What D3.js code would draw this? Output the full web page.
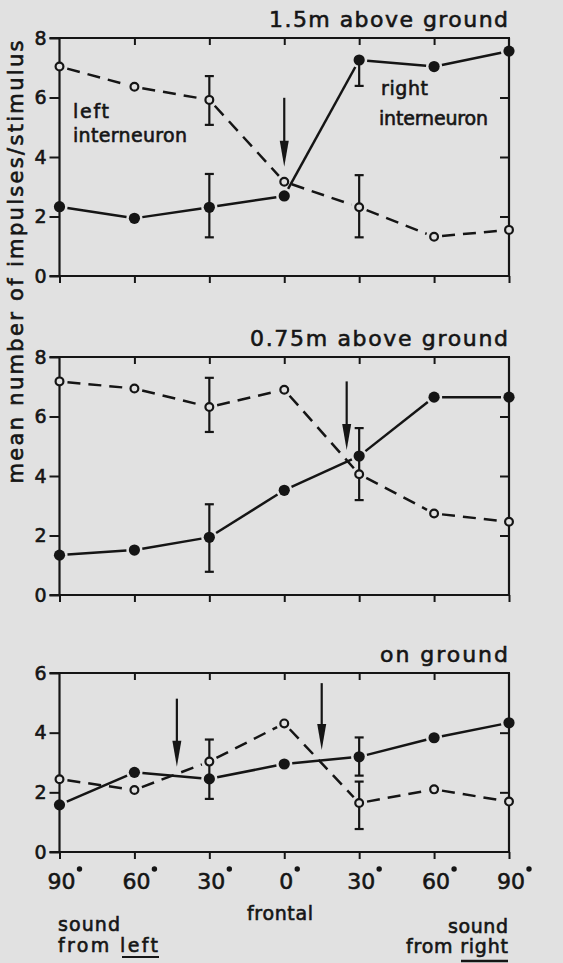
<!DOCTYPE html>
<html>
<head>
<meta charset="utf-8">
<script src="https://d3js.org/d3.v7.min.js"></script>
<style>
  body { margin: 0; background: #e1e1e1; }
  svg text { font-family: "DejaVu Sans", sans-serif; fill: #151515; stroke: #151515; stroke-width: 0.6px; }
</style>
</head>
<body>
<div id="chart"></div>
<script>
///////////////////////////////////////////////
// Data ///////////////////////////////////////
///////////////////////////////////////////////

// sound direction, left negative, right positive
var angles = [-90, -60, -30, 0, 30, 60, 90];
var angleLabels = ["90", "60", "30", "0", "30", "60", "90"];

// 1.5 m above ground
var right150 = [2.33, 1.94, 2.31, 2.69, 7.26, 7.04, 7.56];
var left150  = [7.04, 6.36, 5.92, 3.17, 2.31, 1.32, 1.55];
var errors150 = [[-30, 1.30, 3.43], [-30, 5.08, 6.72], [30, 6.39, 7.26], [30, 1.30, 3.39]];
var arrows150 = [[0, 5.99, 3.67]];

// 0.75 m above ground
var right075 = [1.34, 1.51, 1.94, 3.52, 4.67, 6.65, 6.65];
var left075  = [7.18, 6.94, 6.32, 6.90, 4.06, 2.74, 2.46];
var errors075 = [[-30, 0.78, 3.05], [-30, 5.48, 7.30], [30, 3.19, 5.61]];
var arrows075 = [[25, 7.18, 4.87]];

// on ground
var right000 = [1.58, 2.67, 2.45, 2.95, 3.19, 3.83, 4.33];
var left000  = [2.44, 2.08, 3.03, 4.31, 1.64, 2.10, 1.69];
var errors000 = [[-30, 1.78, 3.77], [30, 2.56, 3.84], [30, 0.77, 2.36]];
var arrows000 = [[-43, 5.14, 2.86], [15, 5.66, 3.42]];

var yTicks8 = [0, 2, 4, 6, 8];
var yTicks6 = [0, 2, 4, 6];

///////////////////////////////////////////////
// Graph parameters ///////////////////////////
///////////////////////////////////////////////

var W = 563, H = 963;
var ink = "#151515", bg = "#e1e1e1";

var panels = [
  { title: "1.5m above ground", titleLen: 239, titleY: 27, top: 38, bottom: 276, yMax: 8, ticks: yTicks8,
    right: right150, left: left150, errors: errors150, arrows: arrows150 },
  { title: "0.75m above ground", titleLen: 258, titleY: 346, top: 357, bottom: 595, yMax: 8, ticks: yTicks8,
    right: right075, left: left075, errors: errors075, arrows: arrows075 },
  { title: "on ground", titleLen: 128, titleY: 662, top: 673, bottom: 852, yMax: 6, ticks: yTicks6,
    right: right000, left: left000, errors: errors000, arrows: arrows000 }
];

var svg = d3.select("#chart").append("svg")
    .attr("width", W)
    .attr("height", H)
    .style("display", "block");

svg.append("rect").attr("width", W).attr("height", H).attr("fill", bg);

var x = d3.scaleLinear()
    .domain([-90, 90])
    .range([59.5, 509]);

///////////////////////////////////////////////
// Panels /////////////////////////////////////
///////////////////////////////////////////////

function styleTicks(a) {
  a.select(".domain").remove();
  a.selectAll(".tick line").attr("stroke", ink).attr("stroke-width", 2);
}

panels.forEach(function(p, pi) {
  var y = d3.scaleLinear().domain([0, p.yMax]).range([p.bottom, p.top]);
  var g = svg.append("g");

  // left axis with outward ticks
  g.append("g")
    .attr("transform", "translate(" + x(-90) + ",0)")
    .call(d3.axisLeft(y).tickValues(p.ticks).tickSize(10).tickPadding(3).tickFormat(d3.format("d")))
    .call(function(a) {
      styleTicks(a);
      a.selectAll(".tick text")
        .style("font-size", "19px")
        .style("font-family", "DejaVu Sans, sans-serif")
        .attr("fill", ink);
    });

  // right axis, inward ticks
  g.append("g")
    .attr("transform", "translate(" + x(90) + ",0)")
    .call(d3.axisLeft(y).tickValues(p.ticks.slice(1, -1)).tickSize(9).tickFormat(""))
    .call(styleTicks);

  // top ticks, inward
  g.append("g")
    .attr("transform", "translate(0," + p.top + ")")
    .call(d3.axisBottom(x).tickValues(angles.slice(1, -1)).tickSize(7).tickFormat(""))
    .call(styleTicks);

  // bottom ticks, outward
  g.append("g")
    .attr("transform", "translate(0," + p.bottom + ")")
    .call(d3.axisBottom(x).tickValues(angles).tickSize(7).tickFormat(""))
    .call(styleTicks);

  // frame
  var frame = [
    [x(-90) - 10, p.top, x(90) + 1, p.top],
    [x(-90) - 10, p.bottom, x(90) + 1, p.bottom],
    [x(-90), p.top, x(-90), p.bottom],
    [x(90), p.top, x(90), p.bottom]
  ];
  g.selectAll(".frame").data(frame).enter().append("line")
    .attr("x1", function(d) { return d[0]; })
    .attr("y1", function(d) { return d[1]; })
    .attr("x2", function(d) { return d[2]; })
    .attr("y2", function(d) { return d[3]; })
    .attr("stroke", ink)
    .attr("stroke-width", 2.2);

  // title
  g.append("text")
    .attr("x", 508)
    .attr("y", p.titleY)
    .attr("text-anchor", "end")
    .attr("textLength", p.titleLen)
    .attr("lengthAdjust", "spacing")
    .style("font-size", "22px")
    .text(p.title);

  // error bars
  var eb = g.selectAll(".err").data(p.errors).enter().append("g");
  eb.append("line")
    .attr("x1", function(d) { return x(d[0]); })
    .attr("x2", function(d) { return x(d[0]); })
    .attr("y1", function(d) { return y(d[1]); })
    .attr("y2", function(d) { return y(d[2]); })
    .attr("stroke", ink).attr("stroke-width", 2.2);
  [1, 2].forEach(function(k) {
    eb.append("line")
      .attr("x1", function(d) { return x(d[0]) - 4.5; })
      .attr("x2", function(d) { return x(d[0]) + 4.5; })
      .attr("y1", function(d) { return y(d[k]); })
      .attr("y2", function(d) { return y(d[k]); })
      .attr("stroke", ink).attr("stroke-width", 2.2);
  });

  // connecting lines, stopped short of the markers
  function segments(vals) {
    var pts = vals.map(function(v, i) { return [x(angles[i]), y(v)]; });
    var segs = [];
    for (var i = 0; i < pts.length - 1; i++) {
      var a = pts[i], b = pts[i + 1];
      var dx = b[0] - a[0], dy = b[1] - a[1], len = Math.sqrt(dx * dx + dy * dy);
      var t = 8 / len;
      segs.push([a[0] + dx * t, a[1] + dy * t, b[0] - dx * t, b[1] - dy * t]);
    }
    return segs;
  }

  g.selectAll(".lineR").data(segments(p.right)).enter().append("line")
    .attr("x1", function(d) { return d[0]; })
    .attr("y1", function(d) { return d[1]; })
    .attr("x2", function(d) { return d[2]; })
    .attr("y2", function(d) { return d[3]; })
    .attr("stroke", ink).attr("stroke-width", 2.5);

  g.selectAll(".lineL").data(segments(p.left)).enter().append("line")
    .attr("x1", function(d) { return d[0]; })
    .attr("y1", function(d) { return d[1]; })
    .attr("x2", function(d) { return d[2]; })
    .attr("y2", function(d) { return d[3]; })
    .attr("stroke", ink).attr("stroke-width", 2.5)
    .attr("stroke-dasharray", "13,8");

  // arrows
  p.arrows.forEach(function(a) {
    var ax = x(a[0]), y0 = y(a[1]), y1 = y(a[2]);
    g.append("line")
      .attr("x1", ax).attr("x2", ax)
      .attr("y1", y0).attr("y2", y1 - 20)
      .attr("stroke", ink).attr("stroke-width", 2.2);
    g.append("path")
      .attr("d", "M" + (ax - 4.5) + "," + (y1 - 26) + "L" + (ax + 4.5) + "," + (y1 - 26) + "L" + ax + "," + y1 + "Z")
      .attr("fill", ink);
  });

  // markers
  g.selectAll(".dotR").data(p.right).enter().append("circle")
    .attr("cx", function(d, i) { return x(angles[i]); })
    .attr("cy", function(d) { return y(d); })
    .attr("r", 5.6)
    .attr("fill", ink);

  g.selectAll(".dotL").data(p.left).enter().append("circle")
    .attr("cx", function(d, i) { return x(angles[i]); })
    .attr("cy", function(d) { return y(d); })
    .attr("r", 3.9)
    .attr("fill", bg)
    .attr("stroke", ink)
    .attr("stroke-width", 2.2);

  // angle labels under the last panel
  if (pi === panels.length - 1) {
    var lab = g.selectAll(".angle").data(angles).enter().append("g")
      .attr("transform", function(d) { return "translate(" + (x(d) + 2) + "," + (p.bottom + 37) + ")"; });
    lab.append("text")
      .attr("text-anchor", "middle")
      .style("font-size", "22px")
      .text(function(d, i) { return angleLabels[i]; });
    lab.append("circle")
      .attr("cx", function() {
        return this.parentNode.querySelector("text").getComputedTextLength() / 2 + 4;
      })
      .attr("cy", -20)
      .attr("r", 2.7)
      .attr("fill", ink);
  }
});

///////////////////////////////////////////////
// Labels /////////////////////////////////////
///////////////////////////////////////////////

svg.append("text")
  .attr("transform", "translate(23,262) rotate(-90)")
  .attr("text-anchor", "middle")
  .attr("textLength", 443)
  .attr("lengthAdjust", "spacing")
  .style("font-size", "21px")
  .text("mean number of impulses/stimulus");

var notes = [
  { t: "left", x: 73, y: 118, len: 36, anchor: "start" },
  { t: "interneuron", x: 73, y: 142, len: 114, anchor: "start" },
  { t: "right", x: 381, y: 95, len: 47, anchor: "start" },
  { t: "interneuron", x: 379, y: 125, len: 109, anchor: "start" },
  { t: "frontal", x: 280, y: 920, len: 66, anchor: "middle" },
  { t: "sound", x: 58, y: 931, len: 62, anchor: "start" },
  { t: "sound", x: 508, y: 933, len: 60, anchor: "end" }
];

svg.selectAll(".note").data(notes).enter().append("text")
  .attr("x", function(d) { return d.x; })
  .attr("y", function(d) { return d.y; })
  .attr("text-anchor", function(d) { return d.anchor; })
  .attr("textLength", function(d) { return d.len; })
  .attr("lengthAdjust", "spacing")
  .style("font-size", "19px")
  .text(function(d) { return d.t; });

// from left / from right with underlined direction
svg.append("text")
  .attr("x", 58).attr("y", 952)
  .attr("textLength", 100)
  .attr("lengthAdjust", "spacing")
  .style("font-size", "19px")
  .text("from left");
svg.append("line")
  .attr("x1", 122).attr("x2", 159)
  .attr("y1", 957).attr("y2", 957)
  .attr("stroke", ink).attr("stroke-width", 2);

svg.append("text")
  .attr("x", 508).attr("y", 953)
  .attr("text-anchor", "end")
  .attr("textLength", 102)
  .attr("lengthAdjust", "spacing")
  .style("font-size", "19px")
  .text("from right");
svg.append("line")
  .attr("x1", 461).attr("x2", 508)
  .attr("y1", 961).attr("y2", 961)
  .attr("stroke", ink).attr("stroke-width", 2.5);
</script>
</body>
</html>
